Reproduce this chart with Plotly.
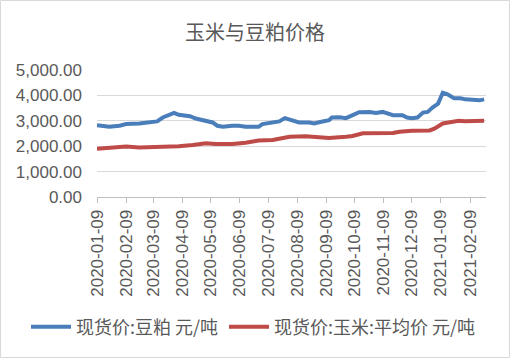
import plotly.graph_objects as go

# Soybean meal spot price (元/吨)
soy_dates = ["2020-01-09","2020-01-22","2020-02-02","2020-02-09","2020-02-23","2020-03-03","2020-03-09",
             "2020-03-13","2020-03-19","2020-03-26","2020-03-31","2020-04-05","2020-04-12","2020-04-17",
             "2020-04-23","2020-05-02","2020-05-11","2020-05-16","2020-05-22","2020-06-01","2020-06-08",
             "2020-06-15","2020-06-29","2020-07-03","2020-07-10","2020-07-21","2020-07-27","2020-08-02",
             "2020-08-11","2020-08-22","2020-08-27","2020-09-05","2020-09-12","2020-09-15","2020-09-23",
             "2020-09-30","2020-10-09","2020-10-14","2020-10-25","2020-11-01","2020-11-08","2020-11-15",
             "2020-11-19","2020-11-29","2020-12-04","2020-12-09","2020-12-15","2020-12-21","2020-12-26",
             "2020-12-31","2021-01-06","2021-01-11","2021-01-16","2021-01-23","2021-01-30","2021-02-04",
             "2021-02-14","2021-02-19","2021-02-24"]
soy_values = [2830,2765,2805,2870,2895,2935,2975,
              2975,3130,3220,3310,3235,3220,3180,
              3090,3025,2935,2805,2765,2805,2805,
              2765,2765,2870,2920,2975,3105,3025,
              2935,2935,2895,2975,3025,3130,3140,
              3105,3260,3340,3350,3310,3350,3285,
              3220,3220,3130,3105,3130,3325,3350,
              3520,3675,4105,4040,3885,3885,3845,
              3830,3805,3845]

# Corn average spot price (元/吨)
corn_dates = ["2020-01-09","2020-01-22","2020-02-09","2020-02-23","2020-03-23","2020-04-05","2020-04-20",
              "2020-05-04","2020-05-14","2020-06-01","2020-06-15","2020-06-29","2020-07-14","2020-07-23",
              "2020-08-01","2020-08-18","2020-09-01","2020-09-12","2020-09-30","2020-10-07","2020-10-18",
              "2020-11-04","2020-11-19","2020-11-26","2020-12-09","2020-12-28","2021-01-02","2021-01-11",
              "2021-01-21","2021-01-28","2021-02-04","2021-02-24"]
corn_values = [1895,1920,1985,1945,1960,2000,2050,
               2115,2090,2090,2140,2220,2245,2310,
               2375,2390,2350,2325,2375,2400,2505,
               2520,2520,2570,2610,2620,2690,2895,
               2935,3000,2985,3000]

tick_vals = ["2020-01-09","2020-02-09","2020-03-09","2020-04-09","2020-05-09","2020-06-09","2020-07-09",
             "2020-08-09","2020-09-09","2020-10-09","2020-11-09","2020-12-09","2021-01-09","2021-02-09"]
y_ticks = [0,1000,2000,3000,4000,5000]

title = "玉米与豆粕价格"
name_soy = "现货价:豆粕 元/吨"
name_corn = "现货价:玉米:平均价 元/吨"

gray = "#595959"
cjk = "Noto Sans CJK SC"
lat = "Liberation Sans"

fig = go.Figure()
fig.add_trace(go.Scatter(x=soy_dates, y=soy_values, mode="lines", name=name_soy,
                         line=dict(color="#4a7ebb", width=4), legend="legend"))
fig.add_trace(go.Scatter(x=corn_dates, y=corn_values, mode="lines", name=name_corn,
                         line=dict(color="#be4b48", width=4), legend="legend2"))

L, R, T, B = 97, 24, 70, 161
pw = 510 - L - R
ph = 358 - T - B
leg_y = (197 - 327) / ph
leg_font = dict(family=cjk, size=18, color=gray)

fig.update_layout(
    width=510, height=358, autosize=False,
    margin=dict(l=L, r=R, t=T, b=B, pad=0),
    paper_bgcolor="white", plot_bgcolor="white",
    title=dict(text=title, x=0.5, xanchor="center", y=1 - 33/358, yanchor="middle",
               yref="container", font=dict(family=cjk, size=20, color=gray)),
    xaxis=dict(type="date", range=["2020-01-09", "2021-02-26"],
               tickmode="array", tickvals=tick_vals, ticktext=tick_vals,
               tickangle=-90, tickfont=dict(family=lat, size=17, color=gray),
               showgrid=False, showline=True, linecolor="#bfbfbf", linewidth=1,
               ticks="outside", ticklen=5, tickcolor="#bfbfbf", zeroline=False),
    yaxis=dict(range=[0, 5000], tickvals=y_ticks, tickformat=",.2f",
               tickfont=dict(family=lat, size=17, color=gray),
               showgrid=True, gridcolor="#d9d9d9", gridwidth=1,
               showline=False, zeroline=False, ticks="", ticklabelstandoff=14),
    legend=dict(orientation="h", x=(26 - L) / pw, xanchor="left", y=leg_y, yanchor="middle",
                font=leg_font, bgcolor="rgba(0,0,0,0)", itemwidth=40),
    legend2=dict(orientation="h", x=(224 - L) / pw, xanchor="left", y=leg_y, yanchor="middle",
                 font=leg_font, bgcolor="rgba(0,0,0,0)", itemwidth=40),
    showlegend=True,
)

# outer chart border
fig.add_shape(type="rect", xref="paper", yref="paper",
              x0=(0.5 - L) / pw, x1=(509.5 - L) / pw,
              y0=(197 - 357.5) / ph, y1=(197 - 0.5) / ph,
              line=dict(color="#d9d9d9", width=1), fillcolor="rgba(0,0,0,0)", layer="below")

fig.write_html("out.html", config={"displayModeBar": False},
               post_script="document.body.style.margin='0';document.body.style.overflow='hidden';")
